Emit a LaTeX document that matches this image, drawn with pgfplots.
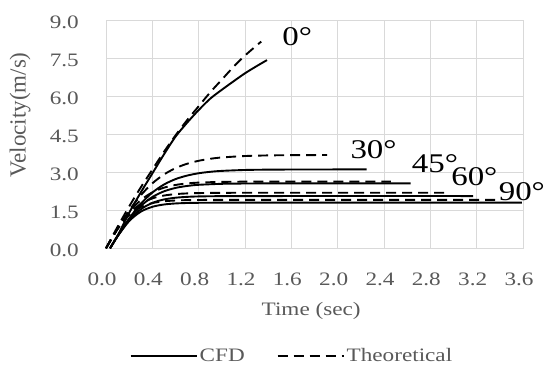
\documentclass[border=0pt]{standalone}
\usepackage{fontspec}
\setmainfont{Liberation Serif}[FakeStretch=1.22]
\newfontfamily\yfont{Liberation Serif}
\usepackage{pgfplots}
\pgfplotsset{compat=1.18}
\definecolor{txtgray}{HTML}{595959}
\definecolor{gridgray}{HTML}{D9D9D9}
\begin{document}
\begin{tikzpicture}
\useasboundingbox (0,0) rectangle (545pt,368pt);
\begin{axis}[
  at={(106pt,119.7pt)}, anchor=south west,
  scale only axis, width=417pt, height=228.3pt,
  xmin=0, xmax=3.6, ymin=0, ymax=9,
  xtick={0,0.4,0.8,1.2,1.6,2.0,2.4,2.8,3.2,3.6},
  ytick={0,1.5,3,4.5,6,7.5,9},
  major tick length=0pt,
  grid=major,
  major grid style={draw=gridgray, line width=0.8pt},
  axis line style={draw=gridgray, line width=0.8pt},
  /pgf/number format/assume math mode=true,
  /pgf/number format/fixed, /pgf/number format/fixed zerofill, /pgf/number format/precision=1,
  ticklabel style={font=\fontsize{19}{22}\selectfont, text=txtgray},
  xticklabel style={anchor=north, inner sep=0pt, yshift=-24pt, xshift=-4pt},
  yticklabel style={anchor=east, inner sep=0pt, xshift=-27pt, yshift=-2pt},
  xlabel={Time (sec)},
  xlabel style={at={(axis description cs:0.492,-0.275)}, anchor=center, font=\fontsize{19}{22}\selectfont, text=txtgray, inner sep=0pt},
  ylabel={Velocity(m/s)},
  ylabel style={at={(axis description cs:-0.206,0.584)}, anchor=center, rotate=0, font=\yfont\fontsize{23}{26}\selectfont, text=txtgray, inner sep=0pt},
  legend style={at={(axis description cs:0.446,-0.472)}, anchor=center, draw=none, fill=none,
    font=\fontsize{19}{22}\selectfont, text=txtgray, legend columns=2,
    /tikz/every even column/.append style={column sep=30pt}},
  legend cell align=left,
  legend image code/.code={\draw[#1] (0pt,0pt) -- (66pt,0pt);},
  cfd/.style={black, line width=1.9pt, smooth},
  theo/.style={black, line width=1.9pt, dash pattern=on 10pt off 6pt, smooth},
  clip=false,
]
% 0 deg CFD
\addplot[cfd] coordinates {(0.035,0) (0.1,0.5) (0.2,1.4) (0.3,2.2) (0.4,2.95) (0.5,3.7) (0.6,4.4) (0.7,4.95) (0.8,5.45) (0.9,5.9) (1.0,6.25) (1.1,6.58) (1.2,6.9) (1.3,7.18) (1.39,7.42)};
\addlegendentry{CFD}
% 0 deg theoretical
\addplot[theo] coordinates {(0,0) (0.1,0.85) (0.2,1.65) (0.3,2.4) (0.4,3.1) (0.5,3.8) (0.6,4.45) (0.7,5.05) (0.8,5.6) (0.9,6.15) (1.0,6.65) (1.1,7.15) (1.2,7.6) (1.34,8.15)};
\addlegendentry{Theoretical}
% 30 deg
\addplot[cfd] coordinates {(0.035,0) (0.1,0.484) (0.2,1.176) (0.3,1.755) (0.4,2.197) (0.5,2.513) (0.6,2.728) (0.7,2.867) (0.8,2.959) (0.9,3.016) (1.0,3.052) (1.2,3.088) (1.4,3.101) (1.7,3.107) (2.25,3.11)};
\addplot[theo] coordinates {(0,0) (0.1,0.778) (0.2,1.49) (0.3,2.089) (0.4,2.56) (0.5,2.909) (0.6,3.16) (0.7,3.333) (0.8,3.45) (0.9,3.529) (1.0,3.581) (1.2,3.638) (1.4,3.662) (1.6,3.672) (1.91,3.678)};
% 45 deg
\addplot[cfd] coordinates {(0.035,0) (0.1,0.481) (0.2,1.149) (0.3,1.665) (0.4,2.021) (0.5,2.245) (0.6,2.38) (0.7,2.458) (0.8,2.503) (1.0,2.542) (1.2,2.554) (1.5,2.559) (2.63,2.56)};
\addplot[theo] coordinates {(0,0) (0.1,0.777) (0.2,1.427) (0.3,1.9) (0.4,2.205) (0.5,2.39) (0.6,2.497) (0.7,2.557) (0.8,2.59) (1.0,2.618) (1.2,2.627) (1.5,2.63) (2.46,2.63)};
% 60 deg
\addplot[cfd] coordinates {(0.035,0) (0.1,0.479) (0.2,1.107) (0.3,1.538) (0.4,1.79) (0.5,1.925) (0.6,1.994) (0.7,2.028) (0.8,2.045) (1.0,2.056) (1.5,2.06) (3.17,2.06)};
\addplot[theo] coordinates {(0,0) (0.1,0.766) (0.2,1.366) (0.3,1.75) (0.4,1.967) (0.5,2.079) (0.6,2.136) (0.7,2.164) (0.8,2.177) (1.0,2.187) (1.5,2.19) (2.97,2.19)};
% 90 deg
\addplot[cfd] coordinates {(0.035,0) (0.1,0.476) (0.2,1.074) (0.3,1.443) (0.4,1.636) (0.5,1.727) (0.6,1.768) (0.7,1.786) (0.8,1.794) (1.0,1.799) (1.5,1.8) (3.59,1.8)};
\addplot[theo] coordinates {(0,0) (0.1,0.756) (0.2,1.308) (0.3,1.624) (0.4,1.781) (0.5,1.853) (0.6,1.885) (0.7,1.899) (0.8,1.905) (1.0,1.909) (1.5,1.91) (3.41,1.91)};
% angle labels
\node[font=\fontsize{27}{30}\selectfont, inner sep=0pt] at (axis cs:1.65,8.34) {0°};
\node[font=\fontsize{27}{30}\selectfont, inner sep=0pt] at (axis cs:2.31,3.88) {30°};
\node[font=\fontsize{27}{30}\selectfont, inner sep=0pt] at (axis cs:2.84,3.35) {45°};
\node[font=\fontsize{27}{30}\selectfont, inner sep=0pt] at (axis cs:3.18,2.83) {60°};
\node[font=\fontsize{27}{30}\selectfont, inner sep=0pt] at (axis cs:3.59,2.23) {90°};
\end{axis}
\end{tikzpicture}
\end{document}
